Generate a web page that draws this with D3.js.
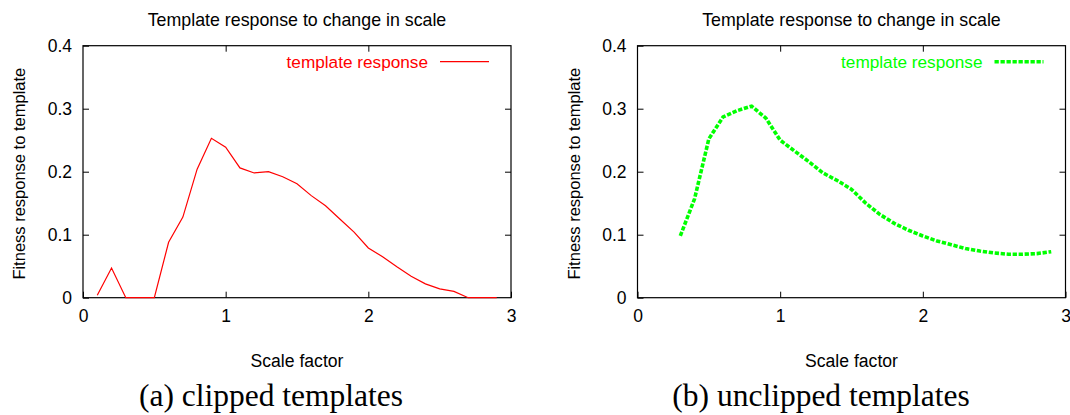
<!DOCTYPE html>
<html lang="en">
<head>
    <meta charset="UTF-8">
    <title>Template response to change in scale</title>
    <script src="https://d3js.org/d3.v7.min.js"></script>
    <style>
        body {
            margin: 0;
            background-color: #ffffff;
        }

        svg text {
            font-family: 'Liberation Sans', Arial, sans-serif;
            fill: #000000;
        }

        svg text.caption {
            font-family: 'Liberation Serif', 'Times New Roman', serif;
        }
    </style>
</head>
<body>
    <svg id="figure" width="1070" height="415"></svg>

    <script>
        // values
        const clippedScale = [0.1, 0.2, 0.3, 0.4, 0.5, 0.6, 0.7, 0.8, 0.9, 1.0,
            1.1, 1.2, 1.3, 1.4, 1.5, 1.6, 1.7, 1.8, 1.9, 2.0,
            2.1, 2.2, 2.3, 2.4, 2.5, 2.6, 2.7, 2.8, 2.9];
        const clippedResponse = [0.004, 0.047, 0, 0, 0, 0.088, 0.128, 0.204, 0.253, 0.239,
            0.206, 0.198, 0.200, 0.192, 0.181, 0.162, 0.146, 0.125, 0.104, 0.079,
            0.065, 0.049, 0.034, 0.022, 0.014, 0.010, 0, 0, 0];

        const unclippedScale = [0.3, 0.4, 0.5, 0.6, 0.7, 0.8, 0.9, 1.0,
            1.1, 1.2, 1.3, 1.4, 1.5, 1.6, 1.7, 1.8, 1.9, 2.0,
            2.1, 2.2, 2.3, 2.4, 2.5, 2.6, 2.7, 2.8, 2.9];
        const unclippedResponse = [0.098, 0.157, 0.252, 0.287, 0.297, 0.304, 0.285, 0.250,
            0.233, 0.216, 0.198, 0.186, 0.172, 0.150, 0.132, 0.118, 0.107, 0.098,
            0.090, 0.084, 0.078, 0.074, 0.071, 0.069, 0.069, 0.070, 0.073];

        const xTicks = [0, 1, 2, 3];
        const yTicks = [0, 0.1, 0.2, 0.3, 0.4];
        const innerXTicks = [1, 2];

        const chartTitle = "Template response to change in scale";
        const xLabel = "Scale factor";
        const yLabel = "Fitness response to template";
        const legendLabel = "template response";

        const plotTop = 45.7, plotBottom = 297.7;
        const tickLen = 6;

        const panels = [
            { left: 83, right: 511, captionX: 271, caption: "(a) clipped templates",
              xs: clippedScale, ys: clippedResponse, color: "#ff0000", lineWidth: 1.2, dash: null },
            { left: 637.5, right: 1065.5, captionX: 821, caption: "(b) unclipped templates",
              xs: unclippedScale, ys: unclippedResponse, color: "#00ff00", lineWidth: 3.6, dash: "4.3,1.7" }
        ];

        const svg = d3.select("#figure");

        panels.forEach(p => {
            const x = d3.scaleLinear().domain([0, 3]).range([p.left, p.right]);
            const y = d3.scaleLinear().domain([0, 0.4]).range([plotBottom, plotTop]);
            const g = svg.append("g");
            const mid = (p.left + p.right) / 2;

            // axes, ticks pointing inward like gnuplot
            g.append("g")
                .attr("transform", `translate(0,${plotBottom})`)
                .call(d3.axisBottom(x).tickValues(xTicks).tickSize(-tickLen).tickPadding(12)
                    .tickFormat(d3.format("d")));
            g.append("g")
                .attr("transform", `translate(${p.left},0)`)
                .call(d3.axisLeft(y).tickValues(yTicks).tickSize(-tickLen).tickPadding(11)
                    .tickFormat(d => d === 0 ? "0" : d3.format(".1f")(d)));
            g.append("g")
                .attr("transform", `translate(0,${plotTop})`)
                .call(d3.axisTop(x).tickValues(innerXTicks).tickSize(-tickLen).tickFormat(""));
            g.append("g")
                .attr("transform", `translate(${p.right},0)`)
                .call(d3.axisRight(y).tickValues(yTicks.slice(1, -1)).tickSize(-tickLen).tickFormat(""));

            g.selectAll(".domain").remove();
            g.selectAll(".tick line").attr("stroke", "#000");
            g.selectAll(".tick text")
                .attr("font-size", "17.5px")
                .attr("font-family", "'Liberation Sans', Arial, sans-serif")
                .attr("fill", "#000");

            g.append("rect")
                .attr("x", p.left)
                .attr("y", plotTop)
                .attr("width", p.right - p.left)
                .attr("height", plotBottom - plotTop)
                .attr("fill", "none")
                .attr("stroke", "#000")
                .attr("stroke-width", 1.2);

            // data line
            const line = d3.line()
                .x((d, i) => x(p.xs[i]))
                .y(d => y(d));

            g.append("path")
                .datum(p.ys)
                .attr("d", line)
                .attr("fill", "none")
                .attr("stroke", p.color)
                .attr("stroke-width", p.lineWidth)
                .attr("stroke-dasharray", p.dash);

            // legend
            g.append("text")
                .attr("x", p.right - 83)
                .attr("y", 68)
                .attr("text-anchor", "end")
                .attr("font-size", "17.2px")
                .style("fill", p.color)
                .text(legendLabel);
            g.append("line")
                .attr("x1", p.right - 71)
                .attr("x2", p.right - 22)
                .attr("y1", 61.7)
                .attr("y2", 61.7)
                .attr("stroke", p.color)
                .attr("stroke-width", p.lineWidth)
                .attr("stroke-dasharray", p.dash);

            // titles and labels
            g.append("text")
                .attr("x", mid)
                .attr("y", 26)
                .attr("text-anchor", "middle")
                .attr("font-size", "17.8px")
                .text(chartTitle);

            g.append("text")
                .attr("x", mid)
                .attr("y", 366.7)
                .attr("text-anchor", "middle")
                .attr("font-size", "17.6px")
                .text(xLabel);

            g.append("text")
                .attr("transform", `translate(${p.left - 58},${(plotTop + plotBottom) / 2 + 2}) rotate(-90)`)
                .attr("text-anchor", "middle")
                .attr("font-size", "16.5px")
                .text(yLabel);

            g.append("text")
                .attr("class", "caption")
                .attr("x", p.captionX)
                .attr("y", 406)
                .attr("text-anchor", "middle")
                .attr("font-size", "31.5px")
                .text(p.caption);
        });
    </script>
</body>
</html>
